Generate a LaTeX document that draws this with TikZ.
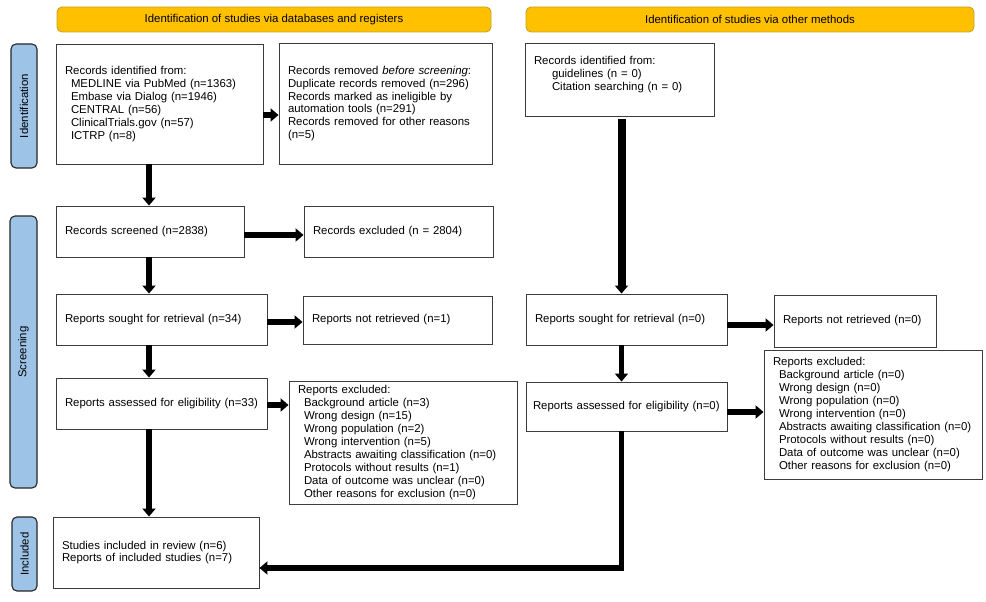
\documentclass[tikz,border=0pt]{standalone}
\usepackage{fontspec}
\setmainfont{Liberation Sans}
\usepackage{xcolor}
\usetikzlibrary{arrows.meta}

\definecolor{phaseblue}{HTML}{9DC3E6}
\definecolor{hdryellow}{HTML}{FFC000}
\definecolor{hdrline}{HTML}{C9A227}
\definecolor{boxline}{HTML}{3C3C3C}

\tikzset{
  box/.style={draw=boxline, line width=0.9pt, fill=white, align=left,
    inner xsep=9pt, inner ysep=0pt, font=\fontsize{11.4}{12.9}\selectfont},
  phase/.style={draw=black!85, line width=1.1pt, fill=phaseblue, rounded corners=5pt,
    rotate=90, inner sep=0pt, font=\fontsize{11.4}{12.9}\selectfont},
  hdr/.style={draw=hdrline, line width=0.9pt, fill=hdryellow, rounded corners=5pt,
    inner sep=0pt, font=\fontsize{11.4}{12.9}\selectfont},
  flow/.style={line width=5.5pt, -{Triangle[length=8pt,width=13pt]}}
}

\begin{document}
\begin{tikzpicture}[x=1pt,y=-1pt]
  \useasboundingbox (0,0) rectangle (986,602);

  % headers and phase labels
  \node[hdr, minimum width=434pt, minimum height=25pt] (hdrdb) at (274,19.5) {Identification of studies via databases and registers};
  \node[hdr, minimum width=448pt, minimum height=25pt] (hdroth) at (750,19.5) {Identification of studies via other methods};
  \node[phase, minimum width=124pt, minimum height=26pt] (phid) at (24,106) {Identification};
  \node[phase, minimum width=272pt, minimum height=27pt] (phscr) at (23.5,352) {Screening};
  \node[phase, minimum width=74pt, minimum height=25pt] (phinc) at (24.5,554) {Included};

  % databases and registers
  \node[box, text width=189pt, minimum height=120pt] (recid) at (159.5,104) {Records identified from:\\
    \hspace*{6pt}MEDLINE via PubMed (n=1363)\\
    \hspace*{6pt}Embase via Dialog (n=1946)\\
    \hspace*{6pt}CENTRAL (n=56)\\
    \hspace*{6pt}ClinicalTrials.gov (n=57)\\
    \hspace*{6pt}ICTRP (n=8)};
  \node[box, text width=195pt, minimum height=121pt] (recrem) at (385.5,103.5) {Records removed \textit{before screening}:\\
    Duplicate records removed (n=296)\\
    Records marked as ineligible by\\
    automation tools (n=291)\\
    Records removed for other reasons\\
    (n=5)};
  \node[box, text width=170pt, minimum height=51pt] (screened) at (150,231.5) {Records screened (n=2838)};
  \node[box, text width=171pt, minimum height=51pt] (recexc) at (398.5,231.5) {Records excluded (n = 2804)};
  \node[box, text width=193pt, minimum height=51pt] (sought) at (161.5,319.5) {Reports sought for retrieval (n=34)};
  \node[box, text width=171pt, minimum height=48pt] (notret) at (397.5,320) {Reports not retrieved (n=1)};
  \node[box, text width=193pt, minimum height=51pt] (assessed) at (161.5,403.5) {Reports assessed for eligibility (n=33)};
  \node[box, text width=210pt, minimum height=123pt] (repexc) at (403,442.5) {Reports excluded:\\
    \hspace*{6pt}Background article (n=3)\\
    \hspace*{6pt}Wrong design (n=15)\\
    \hspace*{6pt}Wrong population (n=2)\\
    \hspace*{6pt}Wrong intervention (n=5)\\
    \hspace*{6pt}Abstracts awaiting classification (n=0)\\
    \hspace*{6pt}Protocols without results (n=1)\\
    \hspace*{6pt}Data of outcome was unclear (n=0)\\
    \hspace*{6pt}Other reasons for exclusion (n=0)};
  \node[box, text width=188pt, minimum height=71pt] (incl) at (156,552.5) {Studies included in review (n=6)\\
    Reports of included studies (n=7)};

  % other methods
  \node[box, text width=171pt, minimum height=73pt] (idoth) at (619.5,79.5) {Records identified from:\\
    \hspace*{18pt}guidelines (n = 0)\\
    \hspace*{18pt}Citation searching (n = 0)\\ \mbox{}};
  \node[box, text width=183pt, minimum height=51pt] (soughtb) at (626.5,319.5) {Reports sought for retrieval (n=0)};
  \node[box, text width=144pt, minimum height=52pt] (notretb) at (855,321) {Reports not retrieved (n=0)};
  \node[box, inner xsep=7pt, text width=187pt, minimum height=49pt] (assessedb) at (626.5,406.5) {Reports assessed for eligibility (n=0)};
  \node[box, text width=200pt, minimum height=129pt] (repexcb) at (873,414.5) {Reports excluded:\\
    \hspace*{6pt}Background article (n=0)\\
    \hspace*{6pt}Wrong design (n=0)\\
    \hspace*{6pt}Wrong population (n=0)\\
    \hspace*{6pt}Wrong intervention (n=0)\\
    \hspace*{6pt}Abstracts awaiting classification (n=0)\\
    \hspace*{6pt}Protocols without results (n=0)\\
    \hspace*{6pt}Data of outcome was unclear (n=0)\\
    \hspace*{6pt}Other reasons for exclusion (n=0)};

  % arrows
  \coordinate (spine) at (149,0);
  \coordinate (rspine) at (621.5,0);
  \draw[flow] (spine |- recid.south) -- (spine |- screened.north);
  \draw[flow] (spine |- screened.south) -- (spine |- sought.north);
  \draw[flow] (spine |- sought.south) -- (spine |- assessed.north);
  \draw[flow] (spine |- assessed.south) -- (spine |- incl.north);
  \draw[flow] ([yshift=-11pt]recid.east) -- ([yshift=-11pt]recid.east -| recrem.west);
  \draw[flow] ([yshift=-3.5pt]screened.east) -- ([yshift=-3.5pt]screened.east -| recexc.west);
  \draw[flow] ([yshift=-2.5pt]sought.east) -- ([yshift=-2.5pt]sought.east -| notret.west);
  \draw[flow] ([yshift=-1.5pt]assessed.east) -- ([yshift=-1.5pt]assessed.east -| repexc.west);

  \draw[flow, line width=8pt] ([yshift=-3pt]rspine |- idoth.south) -- (rspine |- soughtb.north);
  \draw[flow] (rspine |- soughtb.south) -- (rspine |- assessedb.north);
  \draw[flow] ([yshift=-5.5pt]soughtb.east) -- ([yshift=-5.5pt]soughtb.east -| notretb.west);
  \draw[flow] ([yshift=-5.5pt]assessedb.east) -- ([yshift=-5.5pt]assessedb.east -| repexcb.west);
  \draw[flow] (rspine |- assessedb.south) |- ([yshift=-15.5pt]incl.east);
\end{tikzpicture}
\end{document}
